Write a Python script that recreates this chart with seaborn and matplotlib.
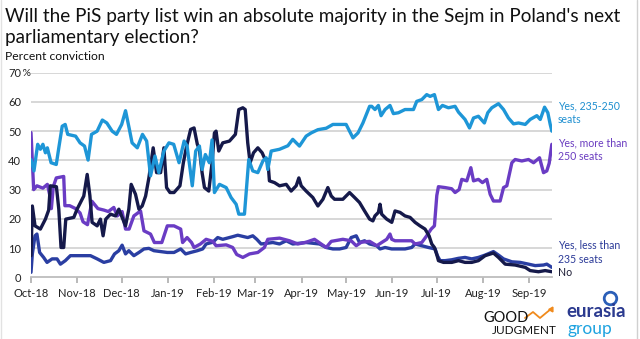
import pandas as pd
import matplotlib
matplotlib.use("Agg")
import matplotlib.pyplot as plt
import matplotlib.dates as mdates
import matplotlib.transforms as mtransforms
from matplotlib.lines import Line2D
import seaborn as sns

# ---- data: days after START, percent conviction ----
START = "2018-10-01"
END_DAY = 350.5

series_names = ["Yes, 235-250 seats", "Yes, more than 250 seats",
                "Yes, less than 235 seats", "No"]

mid_days = [0, 2, 4.5, 6.3, 8, 9.7, 11, 13.5, 17, 18.7, 21, 23, 24.7, 30, 33, 36,
            38.4, 40.7, 44.5, 48, 51, 54.6, 57.5, 61, 63.6, 66, 68, 71.5, 75, 77.8,
            80.4, 83.4, 86, 89.4, 92.8, 96, 99.6, 103, 105, 108.5, 110.8, 113.3,
            115.1, 117.3, 120, 121.8, 123.4, 126.8, 131.3, 134.6, 138, 139.8, 143.6,
            146.5, 149.2, 152.6, 156, 158.2, 159.3, 161.6, 167.2, 172.8, 176.1,
            180.6, 185.1, 188.5, 193, 198.6, 203.1, 212, 216.6, 220, 223.3, 227.8,
            229.2, 231.4, 233.7, 235.5, 238.2, 241.5, 243.8, 247.2, 251.6, 257.3,
            259.5, 262.9, 266.2, 268.5, 271.4, 274.1, 276.8, 280.8, 285.3, 287.6,
            292, 295, 297.7, 301, 305, 307.3, 310, 314.5, 317.9, 321.2, 324.6, 328,
            332.5, 335.8, 340.3, 342.6, 345.5, 347.7, 349.3, 350.4]
mid_pct = [40.3, 36.4, 45.5, 43.8, 45.5, 42.6, 44.3, 39.2, 38.6, 44.3, 51.7, 52.3,
           48.9, 48.3, 46, 44.9, 40.1, 48.9, 50, 53.8, 52.8, 50, 48.9, 52.3, 57, 51.1,
           46, 44.3, 48.9, 46.6, 34.7, 41.5, 35.8, 43.2, 46, 45.5, 39.2, 46.6, 44.9,
           31.3, 43.2, 44.9, 36.9, 42, 39.2, 47, 29, 31.8, 30.7, 27.3, 25, 21.6, 21.6,
           40.3, 36.4, 35.8, 39.8, 40.9, 36.9, 43.2, 43.8, 45, 47.2, 44.9, 48.3, 49.4,
           50.5, 51, 52.3, 52.3, 47.7, 49.4, 52.8, 58.5, 58.5, 57.4, 58.8, 55.3, 57.4,
           58.8, 56, 56.3, 57.4, 57.4, 60.2, 60.8, 62.5, 61.9, 62.5, 57.4, 58.8, 58,
           58.5, 56.5, 54, 51.1, 54.5, 55.1, 52.8, 56.3, 58, 59.4, 57.4, 54.5, 52.5,
           52.8, 52.3, 54, 55.3, 54, 58.2, 56.3, 52.3, 50]

high_days = [0, 1.8, 4, 8, 11, 12.5, 13.7, 15, 17, 22, 22.8, 26, 30, 33, 35, 38, 41,
             45, 49, 52, 55.7, 58, 61.3, 63.6, 66, 69.2, 73.7, 76, 80.4, 83, 88, 91.7,
             96.2, 100.7, 102, 105, 108, 109.7, 114, 117.8, 122.3, 124.5, 131.3,
             135.7, 138.4, 142.5, 147, 152.6, 157, 159.3, 167.2, 173.9, 179.5, 185.1,
             190.7, 195.2, 198.6, 202, 209.8, 215.4, 218.8, 222.2, 227.8, 232.6,
             235.9, 239.3, 241.5, 242.7, 244.9, 256.1, 258.4, 262.9, 266.2, 269.2,
             271.4, 273, 274.1, 278.6, 283, 285.3, 288, 289.8, 293.2, 295.9, 297.7,
             301, 303.7, 306.6, 308.9, 311.1, 315.6, 317.9, 320.1, 323.5, 325.7,
             330.2, 334.7, 338.1, 342.1, 344.8, 347, 348.6, 350.4]
high_pct = [49.5, 30, 31.3, 30.5, 31.8, 28.4, 23.5, 31, 34, 34.5, 24.5, 24.5, 23.5,
            22, 19, 18, 26, 23.5, 23, 22.5, 23.9, 21, 22.5, 16.5, 16.5, 21, 22.7, 15.9,
            14.8, 11.9, 11.9, 17.6, 17.6, 16.5, 11.9, 13.6, 11.9, 10.2, 11.4, 13, 12.3,
            10.8, 11.1, 10.2, 7.8, 6.8, 8, 8.5, 10.2, 13, 13.4, 12.5, 11.4, 12, 13,
            11.4, 10.2, 12.3, 13, 12.5, 10.8, 12, 12.3, 10.8, 11.9, 13, 14.8, 13, 12.5,
            12.5, 11.4, 11.9, 14.2, 16.5, 17.6, 28, 31, 30.7, 30.3, 29, 30, 33.5, 33,
            37.5, 33, 33.5, 32.4, 33.5, 28.4, 26.1, 26.1, 30.7, 31.3, 39.2, 40.3, 39.8,
            40.3, 39.2, 40.9, 35.8, 36.4, 39, 45.5]

low_days = [0, 0.9, 2.7, 4, 5.8, 8.5, 10.8, 14.2, 17.5, 19.8, 23.1, 26.5, 33.3, 40,
            44.5, 49, 53.5, 56.2, 59.1, 61.3, 63.6, 65.8, 69.2, 72.6, 76, 79.3, 82.7,
            87.2, 91.7, 96.2, 100.7, 104, 107.4, 111.9, 115.5, 117.8, 122.3, 125.6,
            129, 135.7, 139.1, 145.8, 149.2, 151.9, 154.8, 162.7, 167.2, 171.7, 176.1,
            185.1, 194.1, 198.6, 203.1, 207.6, 212, 215.4, 218.8, 221, 224.4, 227.8,
            232.6, 234.8, 238.2, 242.7, 251.6, 256.1, 258.4, 262.9, 267.4, 271.9,
            273.4, 275.2, 278.6, 283.1, 287.6, 292, 296.5, 301, 305.5, 311.1, 314.5,
            317.9, 323.5, 329.1, 334.7, 339.2, 344.8, 347, 350.4]
low_pct = [1.7, 8, 14.2, 14.8, 8.5, 6.8, 5.1, 6.3, 6.3, 4.5, 5.7, 7.4, 7.4, 7.4, 6.3,
           5.1, 5.7, 8, 9.1, 11, 8, 9.1, 7.4, 8.5, 9.7, 9.9, 9.1, 8.8, 8.5, 8.5, 9.7, 8,
           8.5, 9.1, 9.7, 11.4, 12, 13.6, 13, 13.9, 14.4, 13.6, 14.2, 13, 11.4, 11.9,
           11.4, 12.5, 11.4, 11.9, 11.4, 10.2, 9.7, 9.7, 10.2, 13.6, 14.2, 11.9, 12.5,
           11.4, 10.8, 9.7, 10.2, 9.7, 9.7, 10.2, 11.4, 10.8, 10.2, 9.7, 7.4, 5.7, 5.7,
           6, 6.5, 6.8, 6.3, 6.8, 7.6, 8.8, 7.6, 6.3, 5.3, 5.1, 4.5, 4, 4.2, 4.5, 3.4]

no_days = [0, 0.9, 2.7, 6.3, 9.7, 11.9, 13, 17.1, 18.7, 20.2, 22, 23.4, 28.8, 31,
           35.5, 37.8, 39.6, 41.1, 44.5, 46.7, 48.5, 50.3, 53.5, 56.9, 59.1, 61.3,
           63.6, 65.8, 67.4, 70.3, 72.6, 74.8, 77.1, 79.3, 82.2, 84.5, 87.2, 89.4,
           91.2, 93.5, 96.2, 100.2, 102.5, 104.7, 107.4, 109.7, 111.9, 113.3, 115.1,
           116.7, 119.6, 121.8, 123.4, 124.5, 126.3, 129, 133.5, 137.5, 139.8, 142.5,
           144.1, 145.8, 147.4, 149.7, 152.6, 155.5, 157.5, 159.3, 160.4, 163.8,
           167.2, 171.7, 175, 178.4, 180.2, 181.8, 185.1, 189.6, 193, 196.4, 199.7,
           202, 204.2, 209.8, 214.3, 217.7, 221, 224.4, 227.8, 230, 231.4, 233.7,
           234.8, 235.9, 239.3, 242.7, 244.9, 248.3, 251.6, 255, 258.4, 261.7, 265.1,
           267.8, 269.6, 271.4, 273.2, 274.1, 277.5, 283.1, 287.6, 292, 296.5, 301,
           305.5, 311.1, 314.5, 319, 325.7, 332.5, 335.8, 341.4, 345.9, 350.4]
no_pct = [7.4, 24.4, 17.6, 16.5, 19.9, 23, 31.3, 31, 23.3, 10.2, 10.2, 19.9, 20.5,
          23.3, 27.8, 35.2, 28, 18.8, 17.6, 19.9, 14.2, 19.9, 21.6, 21, 23.3, 20.5,
          17.6, 23.3, 31.8, 28.4, 23.3, 24.4, 27.8, 34, 44.3, 35.8, 35.8, 44.3, 30.7,
          29, 29, 31.3, 39.2, 44.9, 50.6, 51.1, 45.5, 43.8, 35.8, 30.7, 29.5, 39.2,
          49.4, 50, 43.2, 46, 46.6, 48.9, 57.4, 58, 57.4, 46, 39.2, 42.6, 44.3, 42.6,
          40.3, 40.3, 33, 32.4, 31.3, 31.8, 29.5, 31.3, 34, 31.3, 29.5, 27.3, 24.4,
          26.7, 30.7, 27.8, 26.7, 26.7, 29, 27.3, 25.6, 22.7, 19.9, 19.3, 21, 22.2,
          25, 21.6, 19.9, 18.8, 22.7, 22.2, 21, 20.5, 18.8, 17.6, 16.5, 14.2, 11.4,
          10.2, 7.4, 5.7, 5.1, 5.1, 5.7, 5.1, 5.1, 5.7, 7.4, 8.3, 6.8, 4.5, 4.2, 3.4,
          2.3, 1.9, 2.3, 1.9]

y_ticks = [0, 10, 20, 30, 40, 50, 60, 70]

# ---- styling ----
colors = {
    "Yes, 235-250 seats": "#1e96d7",
    "Yes, more than 250 seats": "#6a3cc4",
    "Yes, less than 235 seats": "#2a3ea2",
    "No": "#15194a",
}
label_colors = {
    "Yes, 235-250 seats": "#1e8fd0",
    "Yes, more than 250 seats": "#6a3cc0",
    "Yes, less than 235 seats": "#2b3a98",
    "No": "#1a1a33",
}

sns.set_theme(style="white")
plt.rcParams["font.family"] = ["Lato", "DejaVu Sans"]

start = pd.Timestamp(START)
frames = []
for name, d, v in [("Yes, less than 235 seats", low_days, low_pct),
                   ("Yes, more than 250 seats", high_days, high_pct),
                   ("No", no_days, no_pct),
                   ("Yes, 235-250 seats", mid_days, mid_pct)]:
    frames.append(pd.DataFrame({
        "date": start + pd.to_timedelta(d, unit="D"),
        "pct": v,
        "series": name,
    }))
df = pd.concat(frames, ignore_index=True)
draw_order = ["Yes, less than 235 seats", "Yes, more than 250 seats", "No",
              "Yes, 235-250 seats"]

W, H = 640, 339
fig = plt.figure(figsize=(W / 100, H / 100), dpi=100)
fig.patch.set_facecolor("white")
ax = fig.add_axes([31 / W, 1 - 277.3 / H, 521 / W, 204.6 / H])

for yv in y_ticks[1:]:
    ax.axhline(yv, color="#d4d4d4", lw=1.3, zorder=0)

sns.lineplot(data=df, x="date", y="pct", hue="series", hue_order=draw_order,
             palette=colors, estimator=None, sort=False, linewidth=2.4,
             legend=False, ax=ax)

ax.set_xlim(start, start + pd.Timedelta(days=END_DAY))
ax.set_ylim(0, 70)
ax.set_xlabel("")
ax.set_ylabel("")
for s in ["top", "right", "left"]:
    ax.spines[s].set_visible(False)
ax.spines["bottom"].set_color("#bdbdbd")
ax.spines["bottom"].set_linewidth(1.3)

ax.xaxis.set_major_locator(mdates.MonthLocator())
ax.xaxis.set_major_formatter(mdates.DateFormatter("%b-%y"))
ax.tick_params(axis="x", which="major", direction="out", length=4, width=1.1,
               color="#a6a6a6", pad=4, labelsize=8, labelcolor="#222222",
               bottom=True)
ax.set_yticks(y_ticks)
ax.set_yticklabels([str(t) for t in y_ticks])
ax.tick_params(axis="y", length=0, pad=7, labelsize=8, labelcolor="#222222")
ax.text(0.0, 70, " %", transform=mtransforms.blended_transform_factory(
    ax.transAxes, ax.transData), ha="right", va="center_baseline", fontsize=7.5,
    color="#222222")

# ---- series labels at the right ----
lab_tf = mtransforms.blended_transform_factory(fig.transFigure, ax.transData)
lx = 558 / W
lab_size = 7.6
ax.text(lx, 60.6, "Yes, 235-250\nseats", transform=lab_tf, ha="left", va="top",
        fontsize=lab_size, color=label_colors["Yes, 235-250 seats"],
        linespacing=1.3)
ax.text(lx, 47.8, "Yes, more than\n250 seats", transform=lab_tf, ha="left",
        va="top", fontsize=lab_size, color=label_colors["Yes, more than 250 seats"],
        linespacing=1.3)
ax.text(lx, 12.8, "Yes, less than\n235 seats", transform=lab_tf, ha="left",
        va="top", fontsize=lab_size, color=label_colors["Yes, less than 235 seats"],
        linespacing=1.3)
ax.text(lx, 1.6, "No", transform=lab_tf, ha="left", va="center",
        fontsize=lab_size, color=label_colors["No"])

# ---- titles ----
def fy(py):
    return 1 - py / H

fig.text(5 / W, fy(21.7), "Will the PiS party list win an absolute majority in the "
         "Sejm in Poland's next", ha="left", va="baseline", fontsize=13.6,
         color="#111111")
fig.text(5 / W, fy(43.3), "parliamentary election?", ha="left", va="baseline",
         fontsize=13.6, color="#111111")
fig.text(5 / W, fy(60), "Percent conviction", ha="left", va="baseline",
         fontsize=8.7, color="#111111")

# ---- logos ----
fig.text(483 / W, fy(322), "GOOD", ha="left", va="baseline", fontsize=10.5,
         color="#111111")
fig.text(492 / W, fy(334), "JUDGMENT", ha="left", va="baseline", fontsize=8.5,
         color="#111111")
fig.add_artist(Line2D([525 / W, 533 / W, 540 / W, 546 / W, 551 / W],
                      [fy(318), fy(312), fy(318), fy(313), fy(309)],
                      transform=fig.transFigure, color="#f08a1c", lw=1.3))
fig.add_artist(Line2D([551 / W], [fy(309)], transform=fig.transFigure,
                      marker=(3, 0, -30), markersize=4, color="#f08a1c"))
fig.text(566 / W, fy(317), "eurasia", ha="left", va="baseline", fontsize=13.5,
         fontweight="bold", color="#2b3a8f")
fig.text(567 / W, fy(334), "group", ha="left", va="baseline", fontsize=12.5,
         color="#1ea3e0")
fig.add_artist(Line2D([610 / W], [fy(298)], transform=fig.transFigure,
                      marker="o", markersize=9, markerfacecolor="none",
                      markeredgecolor="#2b5fb8", markeredgewidth=2))

# thin frame at the image edges
fig.add_artist(Line2D([1 / W, 1 / W], [0, 1], transform=fig.transFigure,
                      color="#e2e2e2", lw=1))
fig.add_artist(Line2D([637 / W, 637 / W], [0, 1], transform=fig.transFigure,
                      color="#d0d0d0", lw=1))

fig.savefig("out.png", dpi=100, facecolor="white")
